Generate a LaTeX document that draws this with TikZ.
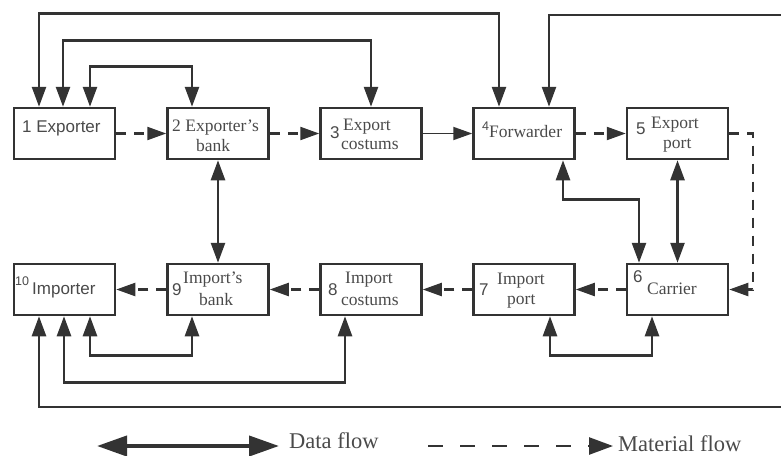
\documentclass[tikz,border=0pt]{standalone}
\usepackage{fontspec}
\setmainfont{Liberation Serif}
\setsansfont{Liberation Sans}
\usetikzlibrary{arrows.meta}
\definecolor{lignes}{HTML}{333333}
\definecolor{texte}{HTML}{4A4A4A}
\tikzset{boite/.style={draw=lignes,line width=2.5pt,minimum width=101pt,minimum height=51pt,inner sep=0pt},
  donnees/.style={draw=lignes,line width=2.6pt,{Triangle[length=20pt,width=14pt]}-{Triangle[length=20pt,width=14pt]}},
  matiere/.style={draw=lignes,line width=2.2pt,dash pattern=on 10pt off 8pt,-{Triangle[length=19pt,width=13pt]}},
  chiffre/.style 2 args={font=\sffamily\fontsize{#1}{#2}\selectfont,text=texte,anchor=base west,inner sep=0pt},
  nom/.style={font=\rmfamily\fontsize{17.5}{20}\selectfont,text=texte,anchor=base west,inner sep=0pt},
  legende/.style={font=\rmfamily\fontsize{22.5}{24}\selectfont,text=texte,anchor=base west,inner sep=0pt}}
\begin{document}
\begin{tikzpicture}[x=1pt,y=-1pt]
  \useasboundingbox (0,0) rectangle (781,455);
  % les boites
  \node[boite] (b1) at (64.5,133.5) {};
  \node[boite] (b2) at (218,133.5) {};
  \node[boite] (b3) at (371,133.5) {};
  \node[boite] (b4) at (524,133.5) {};
  \node[boite] (b5) at (677.5,133.5) {};
  \node[boite] (b6) at (677.5,289.5) {};
  \node[boite] (b7) at (524,289.5) {};
  \node[boite] (b8) at (371,289.5) {};
  \node[boite] (b9) at (218,289.5) {};
  \node[boite] (b10) at (64.5,289.5) {};
  % les textes
  \node[chiffre={17}{20}] (t1) at (22,132) {1 Exporter};
  \node[nom] (t2) at (172,131) {2 Exporter's};
  \node[nom] (t2b) at (196,151) {bank};
  \node[chiffre={17}{20}] (n3) at (330,138) {3};
  \node[nom] (t3) at (343,130) {Export};
  \node[nom] (t3b) at (341,149) {costums};
  \node[chiffre={12.5}{14}] (n4) at (482,130) {4};
  \node[nom] (t4) at (489,137) {Forwarder};
  \node[chiffre={17}{20}] (n5) at (636,134) {5};
  \node[nom] (t5) at (651,128) {Export};
  \node[nom] (t5b) at (663,148) {port};
  \node[chiffre={17}{20}] (n6) at (633,282) {6};
  \node[nom] (t6) at (647,294) {Carrier};
  \node[chiffre={17}{20}] (n7) at (479,295) {7};
  \node[nom] (t7) at (497,284) {Import};
  \node[nom] (t7b) at (507,304) {port};
  \node[chiffre={17}{20}] (n8) at (328,295) {8};
  \node[nom] (t8) at (345,283) {Import};
  \node[nom] (t8b) at (341,305) {costums};
  \node[chiffre={17}{20}] (n9) at (172,295) {9};
  \node[nom] (t9) at (183,283) {Import's};
  \node[nom] (t9b) at (199,305) {bank};
  \node[chiffre={12.5}{14}] (n10) at (15,285) {10};
  \node[chiffre={17}{20}] (t10) at (32,294) {Importer};
  % flux de donnees
  \coordinate (estHaut) at (781,15);
  \coordinate (estBas) at (781,407);
  \draw[donnees] ([xshift=-25.5pt]b1.north) -- ++(0,-93) -| ([xshift=-25pt]b4.north);
  \draw[donnees,-{Triangle[length=20pt,width=14pt]}] (estHaut) -| ([xshift=25pt]b4.north);
  \draw[donnees] ([xshift=-1.5pt]b1.north) -- ++(0,-66) -| (b3.north);
  \draw[donnees] ([xshift=25.5pt]b1.north) -- ++(0,-40) -| ([xshift=-26pt]b2.north);
  \draw[donnees] (b2.south) -- (b9.north);
  \draw[donnees] ([xshift=39pt]b4.south) -- ++(0,39) -| ([xshift=-38.5pt]b6.north);
  \draw[donnees] (b5.south) -- (b6.north);
  \draw[donnees] ([xshift=25.5pt]b10.south) -- ++(0,39) -| ([xshift=-26pt]b9.south);
  \draw[donnees] ([xshift=-0.5pt]b10.south) -- ++(0,66) -| ([xshift=-26pt]b8.south);
  \draw[donnees,-{Triangle[length=20pt,width=14pt]}] (estBas) -| ([xshift=-25.5pt]b10.south);
  \draw[donnees] ([xshift=26pt]b7.south) -- ++(0,39) -| ([xshift=-25.5pt]b6.south);
  % flux de matiere
  \draw[matiere] (b1) -- (b2);
  \draw[matiere] (b2) -- (b3);
  \draw[matiere,solid,line width=1.8pt] (b3) -- (b4);
  \draw[matiere] (b4) -- (b5);
  \draw[matiere] (b5.east) -- ++(24,0) |- (b6.east);
  \draw[matiere] (b6) -- (b7);
  \draw[matiere] (b7) -- (b8);
  \draw[matiere] (b8) -- (b9);
  \draw[matiere] (b9) -- (b10);
  % legende
  \coordinate (dA) at (97,446);
  \coordinate (dB) at (279,446);
  \coordinate (mA) at (428,446);
  \coordinate (mB) at (613,446);
  \draw[draw=lignes,line width=4pt,{Triangle[length=30pt,width=20pt]}-{Triangle[length=30pt,width=20pt]}] (dA) -- (dB);
  \node[legende] (ld) at (289,448) {Data flow};
  \draw[draw=lignes,line width=2.6pt,dash pattern=on 15pt off 17pt,-{Triangle[length=24pt,width=17pt]}] (mA) -- (mB);
  \node[legende] (lm) at (618,451) {Material flow};
\end{tikzpicture}
\end{document}
